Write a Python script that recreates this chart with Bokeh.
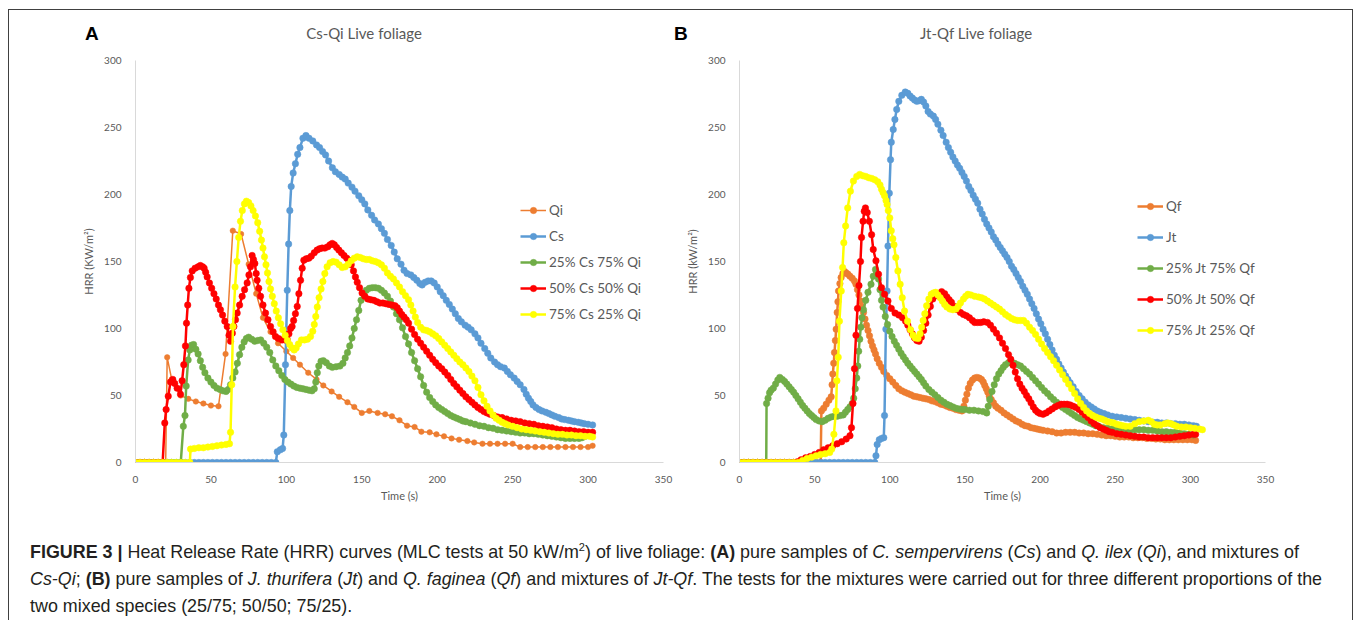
from bokeh.plotting import figure
from bokeh.models import (Range1d, FixedTicker, Legend, LegendItem, Div, ColumnDataSource)
from bokeh.layouts import row, column
from bokeh.embed import file_html
from bokeh.resources import INLINE

# ---------------- data (time s, HRR kW/m2) ----------------
X_TICKS = [0, 50, 100, 150, 200, 250, 300, 350]
Y_TICKS = [0, 50, 100, 150, 200, 250, 300]

A_QI = [(0,0),(5,0),(10,0),(15,0),(20,0),(21,78.5),(24,62),(30,50),(35,47.5),(40,45.5),(45,44),(50,42.5),(55,42),
        (59.7,81),(64.5,173),(70,170.5),(75,148),(80,126),(84.5,108),(89.5,97.5),(94.5,89),(100,83),(104.5,78),(109,73),
        (114.5,67),(120,62),(124.5,57.5),(130,53),(135,49),(140.5,45),(145,41.5),(150,37),(155,38.5),(160.5,37),(165.5,36),
        (170,34.5),(175,31.5),(180,27.5),(185,26.5),(189.5,23),(195,22.5),(199.5,21),(204.5,19.5),(209.5,18),(214.5,17),
        (220,16),(224.5,15),(230,14),(235,14),(240,14),(245,14),(250,14),(255,11.5),(260,11.5),(265,11.5),(270,11.5),
        (275,11.5),(280,11.5),(285,11.5),(290,11.5),(295,11.5),(300,11.5),(303,12.5)]

A_CS = [(0,0),(3,0),(6,0),(9,0),(12,0),(15,0),(18,0),(21,0),(24,0),(27,0),(30,0),(33,0),(36,0),(39,0),(42,0),(45,0),
        (48,0),(51,0),(54,0),(57,0),(60,0),(63,0),(66,0),(69,0),(72,0),(75,0),(78,0),(81,0),(84,0),(87,0),(90,0),(93,0),
        (94,8),(96,9.5),(97.5,10.5),(98.3,20.5),(99.4,73),(100.6,128.5),(101.5,163),(102.3,188),(103.2,206),(104.5,216),
        (106,223),(107.5,230),(109,235),(111,242),(113,244),(115,242),(117.5,240),(120,237),(122,235),(124,232),(126,229.5),
        (128,225),(130.5,220),(132.5,217),(135,215),(137,213),(139,211.5),(141,208.5),(143.5,205.5),(145.5,202.5),(148,199),
        (150,196),(152,193),(154,188.5),(156.5,184.5),(158.5,181),(161,178),(163,174.5),(165,171),(167,166.5),(169.5,162),
        (171.5,157),(173.5,152),(176,148),(178,143.5),(180,141),(182.5,140),(184.5,138),(186.5,136),(188.5,133.5),(190,132.5),
        (192,134.5),(194,135.5),(196,135.5),(198,134),(200,131),(202,127.5),(204,124.5),(206,121),(208,118),(210,114.5),
        (212,111),(214,107.5),(216,105),(218.5,102.5),(220.5,101),(222.5,99),(225,96),(227,93),(229,89),(231.5,85),
        (233.5,81.5),(235.5,78),(238,75),(240,73),(242,71.5),(244.5,70.5),(246.5,68),(248.5,65.5),(251,63),(253,60.5),
        (255,58),(257.5,54.5),(259,51),(260.5,48),(262,45.5),(263.5,43),(265.5,41),(267.5,39.5),(269.5,38.5),(272,37.5),
        (274,36.5),(276,35.5),(278,34.5),(280.5,33.5),(282.5,32.5),(284.5,32),(287,31.5),(289,31),(291,30.5),(293.5,30),
        (295.5,29.5),(297.5,29),(300,28.5),(303,28)]

A_CS25 = [(0,0),(3,0),(6,0),(9,0),(12,0),(15,0),(18,0),(21,0),(24,0),(27,0),(30,0),
          (31.7,27),(32.8,35),(33.6,57),(34.9,76.5),(36,84),(37.1,87.5),(38.5,88),(40,84.5),(41.5,81),(43,76),(44.5,71),
          (46,67),(48,63),(50,60),(52,57.5),(54,55.5),(56,54.5),(58,53.5),(60,53),(61.5,54.5),(63,58),(64.5,63),(66,67.5),
          (67.5,74),(69,80.5),(70.5,86),(72,90),(73.5,92.5),(75,93.5),(77,92),(79,90.5),(81,91),(83,91.5),(85,89),(87,86),
          (89,82),(91,76.5),(93,72),(95,68.5),(97,65),(99,62),(101,60),(103,58.5),(105,57),(107,56),(109,55.5),(111,55),
          (113,54.5),(115,54),(117,53.5),(118.5,55),(119.5,60),(120.5,67),(121.5,72),(123,75.5),(124.5,76),(126.5,74.5),
          (128.5,72),(130.5,71),(133,71.5),(135.5,72),(137.5,74),(139,78),(140.5,82),(142,87),(143.5,93),(145,100),
          (146.5,106.5),(148,113.5),(149.5,121),(151,126),(153,128.5),(155,130),(157,130.5),(159,130.5),(161,130),
          (163,128.5),(165,126.5),(167,124),(169,120.5),(171,116),(173,111),(175,106.5),(177,100.5),(179,94),(181,88.5),
          (183,82),(185,76),(187,70),(189,64),(191,57.5),(193,52.5),(195,48.5),(197,45.5),(199,43),(201,41),(203,39.5),
          (205,38),(207,36.5),(209,35),(211,34),(213,33),(215,32),(217,31),(219,30.5),(222,29.5),(225,28.5),(228,27.5),
          (231,27),(234,26),(237,25.5),(240,24.5),(243,24),(246,23.5),(249,23),(252,22.5),(255,22),(258,22),(261,21.5),
          (264,21.5),(267,21),(270,20.5),(273,20),(276,19.5),(279,19),(282,18.5),(285,18),(288,18),(291,18),(294,18),
          (296,18.5),(298,19.5)]

A_CS50 = [(0,0),(3,0),(6,0),(9,0),(12,0),(15,0),(18,0),
          (19.4,29.5),(20.3,39.5),(21.7,49.5),(23.2,60),(24.7,62),(26,59),(27.6,55.5),(29.8,51),(30.9,61),(32,73),
          (33.1,87),(33.8,104),(34.6,117.5),(35.4,130),(36.4,138),(37.6,143),(39.5,145),(41.5,146),(43,147),(44.5,146),
          (45.5,145),(46.5,142),(47.5,138.5),(49,134),(50.5,130),(52,126),(53.5,122),(55,117.5),(56.3,114),(57.7,110),
          (59.2,105.5),(60.8,101.5),(62,95),(63,90.5),(64.2,96.5),(65.2,101.5),(66.3,106.5),(67.4,111.5),(69,117.5),
          (70.7,124),(72.3,129),(74,134),(75.2,140),(76.2,146),(77.3,154.5),(78.2,151.5),(79.1,148.5),(80,141),
          (80.6,136),(81.7,130),(82.9,124),(84.5,117.5),(86.2,111.5),(87.8,106.5),(89.5,101.5),(91.2,97.5),(92.8,94),
          (94.8,92.5),(97.2,91.5),(99,91.5),(100.5,92),(101.7,96),(102.8,100),(103.8,101.5),(104.8,106),(106,111),
          (107.2,116.5),(108.3,126),(109.4,136),(110.5,145),(111.6,151),(113.2,152),(114.9,152.5),(116.5,154),
          (118.5,156.5),(120.4,158.5),(122,159.5),(123.7,160),(125.5,160),(127.5,161),(129,162.5),(130.4,163.5),
          (131.8,162.5),(133.3,160.5),(134.8,158.5),(136.5,156.5),(138.2,154.5),(140,152.5),(141.4,151),(143,147.5),
          (144.5,143),(145.8,138.5),(147,134.5),(148.5,130.5),(150.2,126.5),(152,124),(154,122),(156,121.5),(158,121),
          (160,120),(162,119),(164,119),(166,118.5),(168,118),(170,117.5),(172,117),(173.5,115.5),(175,113),(176.5,110.5),
          (178,108.5),(179.5,106.5),(181,104),(183,99.5),(185,95.5),(187,92),(189,89),(191,86),(193,83),(195,80),(197,77),
          (199,74.5),(201,72),(203,70),(205,67.5),(207,65),(209,62),(211,59),(213,56.5),(215,54),(217,51.5),(219,49),
          (221,47),(223,45),(225,43),(227,41),(229,39.5),(231,38),(233,37),(235,36),(237.5,35),(240,34),(243,33.5),
          (246,32.5),(249,31.5),(252,31),(255,30.5),(258,29.5),(261,29),(264,28.5),(267,27.5),(270,27),(273,26.5),
          (276,26),(279,25),(282,24.5),(285,24),(288,24),(291,23.5),(294,23),(297,23),(300,22.5),(303,22.5)]

A_CS75 = [(0,0),(3,0),(6,0),(9,0),(12,0),(15,0),(18,0),(21,0),(24,0),(27,0),(30,0),(33,0),(36,0),
          (36.5,10),(39,10.5),(42,11),(45,11),(48,11.5),(51,12),(54,12.5),(57,13),(60,13.5),(62.3,14),(63,22.5),
          (63.8,58),(64.6,101.5),(66,131),(67.2,150),(68.4,168),(69.6,180),(70.8,188),(72.2,193),(73.5,195),(75,194),
          (76.5,191.5),(78,188),(79.5,184),(81,179),(82.3,172.5),(83.5,166),(84.5,160),(85.5,153.5),(86.5,147.5),
          (87.5,141.5),(88.5,135),(89.5,129.5),(90.7,124),(92,118.5),(93.3,113),(94.7,108),(96.2,103.5),(97.7,99),
          (99.2,95),(100.7,91),(102.2,88),(103.7,85.5),(105.2,84),(106.5,85.5),(108,88.5),(110,91.5),(112,91.5),(114,92),
          (116,94),(117.5,98),(118.5,103),(119.5,109),(120.5,116),(121.7,123),(123,129.5),(124.2,135),(125.5,141),
          (127,146),(129,149),(131,150),(133,149.5),(135,147.5),(137,145.5),(139,146),(141,148),(143,150.5),(145,152.5),
          (147,153.5),(149,153),(151,152),(153,151.5),(155,151.5),(157,150.5),(159,150),(161,149),(163,147.5),(165,145),
          (167,141.5),(169,139),(171,137),(173,134),(175,131),(177,127.5),(179,124.5),(181,121.5),(182.5,117.5),
          (184,113),(185.5,108.5),(187,104.5),(189,101),(191,99),(193,98.5),(195,97.5),(197,96),(199,94.5),(201,92.5),
          (203,90),(205,87.5),(207,85),(209,82.5),(211,80),(213,77.5),(215,75),(217,73),(219,70.5),(221,68),(223,64.5),
          (225,61),(227,56),(229,50.5),(231,46),(233,42),(235,38.5),(237,35.5),(239,33),(241,31.5),(243,30),(245,29),
          (247,28),(250,27),(253,26),(256,25),(259,24.5),(262,24),(265,23.5),(268,23),(271,22.5),(274,22),(277,21.5),
          (280,21),(283,21),(286,20.5),(289,20.5),(292,20),(295,20),(298,19.5),(301,19.5),(303,19)]

B_QF = [(0,0),(3,0),(6,0),(9,0),(12,0),(15,0),(18,0),(21,0),(24,0),(27,0),(30,0),(33,0),(36,0),(39,0),(42,0),(45,0),
        (48,0),(51,0),(54,0),
        (54.5,38.5),(56,40.5),(57.7,43.5),(59.5,46.5),(61,49),(61.6,58),(62.1,66),(62.7,74),(63.2,82),(63.8,91),
        (64.3,99.5),(65,112),(65.5,120),(65.9,128),(66.8,133.5),(67.6,138),(68.8,141),(69.9,142.5),(71,141.5),
        (72.2,140.5),(73.5,139),(75,137.5),(76.5,135.5),(77.5,133),(78.5,129),(79.5,125),(80.5,120.5),(81.5,116.5),
        (82.5,112),(83.5,107),(84.5,102.5),(85.5,98.5),(86.5,94.5),(87.5,90.5),(88.5,87),(89.5,84),(90.5,81),(91.6,77.5),
        (93,74),(94.5,71),(96,68),(98,65),(100,62.5),(102,60),(104,57.5),(106,55),(108,53.5),(110,52.5),(112,51.5),
        (114,50.5),(116,49.5),(118,49),(120,48.5),(122,48),(124,47.5),(126,47),(128,46),(130,45.5),(132,44.5),
        (134,43.5),(136,43),(138,42),(140,41),(142,40.5),(144,39.5),(146,39),(148,38.5),(149.3,42),(150.3,46.5),
        (151.3,51),(152.3,55.5),(153.5,59),(155,61.5),(156.5,63),(158,63.5),(159.5,63),(161,62),(162.2,60),(163.2,57.5),
        (164.2,55),(165.2,52.5),(166.2,49.5),(167.5,47),(169,44.5),(170.5,42),(172,40.5),(174,39),(176,37),(178,35.5),
        (180,34),(182,32.5),(184,31),(186,30),(188,28.5),(190,27.5),(192,27),(194,26),(196,25.5),(198,25),(200,24.5),
        (202,24),(205,23.5),(208,23),(211,22),(214,22),(217,22.5),(220,22.5),(223,22.5),(226,22),(229,22),(232,21.5),
        (235,21.5),(238,21),(241,20.5),(244,20),(247,20),(250,19.5),(253,19),(256,19),(259,19),(262,18.5),(265,18.5),
        (268,18.5),(271,18),(274,18),(277,17.5),(280,17.5),(283,17),(286,17),(289,17),(292,17),(295,17),(298,17),
        (301,17),(303.5,16.5)]

B_JT = [(0,0),(3,0),(6,0),(9,0),(12,0),(15,0),(18,0),(21,0),(24,0),(27,0),(30,0),(33,0),(36,0),(39,0),(42,0),(45,0),
        (48,0),(51,0),(54,0),(57,0),(60,0),(63,0),(66,0),(69,0),(72,0),(75,0),(78,0),(81,0),(84,0),(87,0),(90,0),
        (90.8,5),(91.6,13.5),(93,17),(94.5,18),(96,18.5),(96.5,35),(97.4,99.5),(98.2,128),(98.8,161.5),(99.7,201),
        (100.5,226),(101,239),(102.3,248.5),(103.4,256),(104.6,263.5),(106,269.5),(108,274),(110.3,276.5),(112,275.5),
        (113.5,273.5),(115,272),(116.5,270.5),(118,269.5),(119.5,270),(121,271),(122.5,269),(124,266),(125.5,262),
        (127,260),(129,258.5),(130.5,256),(132,252.5),(134,248),(135.5,244),(137.5,239),(139,235),(140.5,231.5),
        (142,228),(143.5,225),(145,222),(146.5,219.5),(148,216.5),(149.5,213.5),(151,210),(152.5,206),(154,203),
        (155.5,199.5),(157,196.5),(158.5,193.5),(160,189),(161.5,185.5),(163,181.5),(164.5,178),(166,175),(167.5,172),
        (169,168.5),(170.5,166),(172,163),(173.5,160.5),(175,158),(176.5,155.5),(178,153),(179.5,150),(181,146.5),
        (182.5,144),(184,141),(185.5,138),(187,135),(188.5,131.5),(190,128.5),(191.5,125.5),(193,122),(194.5,118.5),
        (196,115),(197.5,111),(199,107),(200.5,103.5),(202,99.5),(203.5,96),(205,92),(206.5,88),(208,84),(209.5,80),
        (211,77),(212.5,73.5),(214,70.5),(215.5,67.5),(217,64.5),(218.5,62),(220,59.5),(222,56.5),(224,53),(226,50),
        (228,47.5),(230,45),(232,43),(234,41.5),(236,40),(238,38.5),(240,37.5),(242.5,36.5),(245,35.5),(248,34.5),
        (251,34),(254,33.5),(257,33),(260,32.5),(263,32),(266,31.5),(269,31),(272,30.5),(275,30),(278,30),(281,29.5),
        (284,29.5),(287,29),(290,29),(293,28.5),(296,28.5),(299,28),(302,27.5),(304,27)]

B_JT25 = [(0,0),(3,0),(6,0),(9,0),(12,0),(15,0),(17.8,0),
          (18,44),(19,48),(20,52),(21,54),(22.5,55.5),(24,58.5),(25.5,61.5),(26.8,63.5),(28.5,62),(30,60.5),(31.5,58.5),
          (33,56.5),(34.5,54.5),(36,52.5),(37.5,50),(39,47.5),(40.5,45),(42,42.5),(43.5,40.5),(45,38.5),(46.5,36.5),
          (48,35),(49.5,33.5),(51,32),(53,31),(55,30.5),(57,31.5),(59,33),(61,34),(63,34.5),(65,34.5),(67,35),(69,35.5),
          (70.5,37.5),(72,39.5),(73.5,41.5),(75,44),(76,48),(77,55),(78,63),(78.7,72),(79.3,83),(80,92),(80.7,101),
          (81.5,108),(82.5,114),(84,121),(85.5,127),(87.5,133),(89,139),(90.5,144),(91.5,141),(92.5,137),(93.5,129),
          (94.5,121),(95.5,116),(97,109),(98.5,103),(100,98),(101.5,94),(103,90.5),(104.5,87.5),(106,84.5),(107.5,81.5),
          (109,79),(110.5,76.5),(112,74),(113.5,72),(115,70),(116.5,68),(118,66),(119.5,64),(121,62),(122.5,59.5),
          (124,57),(126,54.5),(128,52.5),(130,50.5),(132,48.5),(134,46.5),(136,45),(138,43.5),(140,42.5),(142,41.5),
          (144,40.5),(146,40),(148,39.5),(150,39.5),(153,39),(156,39),(159,38.5),(162,38),(164.5,37),(165.5,42),
          (166.5,47),(168,53),(169.5,58),(171,62.5),(172.5,66),(174,68.5),(175.5,71),(177,73),(179,74.5),(181,74.5),
          (183,74),(185,73),(187,72),(189,70),(191,68),(193,66),(195,63.5),(197,61),(199,58.5),(201,56),(203,53.5),
          (205,51.5),(207,49),(209,47),(211,45),(213,43),(215,41),(217,39.5),(219,38),(221,36.5),(223,35),(225,33.5),
          (227,32.5),(229,31.5),(231,30.5),(233,29.5),(235,28.5),(237,27.5),(239,27),(242,26),(245,25.5),(248,25),
          (251,24.5),(254,24),(257,24),(260,24),(263,24.5),(266,24.5),(269,24.5),(272,24),(275,24),(278,23.5),(281,23),
          (284,23),(287,22.5),(290,22.5),(293,22),(296,21.5),(299,21),(302,20.5)]

B_JT50 = [(0,0),(3,0),(6,0),(9,0),(12,0),(15,0),(18,0),(21,0),(24,0),(27,0),(30,0),(33,0),(36,0),
          (38.5,0.5),(41,2),(44,3.5),(47,4.5),(50,6),(53,7.5),(56,9.5),(59,11),(62,12.5),(65,14),(68,15.5),(71,17.5),
          (73.5,20),(74.5,26),(75.5,44),(76.5,70),(77.5,95),(78.5,115),(79.5,132),(80.5,150),(81.2,168),(82.2,180),
          (83,187.5),(83.8,190),(85,186.5),(86.4,180),(87.9,170),(89,159),(90.8,150.5),(92.5,140.5),(94.5,130.5),
          (96.5,125.5),(98.8,120.5),(101,115),(103.5,111.5),(106,110),(108.5,108),(110.5,105.5),(112,102.5),(113.5,99),
          (115,96),(116.5,93),(118,91),(119.5,90.5),(121,93.5),(122.5,98.5),(124,104),(125.5,110),(127,116.5),
          (128.6,122),(130.5,124.5),(132.5,126),(134.5,127.5),(136.5,126),(138,123.5),(139.5,121.5),(141,119.5),
          (143,116.5),(145,114),(147,112),(149,110.5),(151,109.5),(153,108),(155,106),(156.5,104.5),(158.5,104.5),
          (160.5,104.5),(162.5,105),(165,104.5),(167,102.5),(169,99.5),(171,96.5),(173,93),(175,89),(177,85),(179,80.5),
          (180.5,77),(182,72.5),(183.5,67.5),(185,62.5),(186.5,58.5),(188,55.5),(189.5,53),(191,50),(192.5,47.5),
          (194,44.5),(195.5,41.5),(197,39),(198.5,37.5),(200,36.5),(202,36),(204,37),(206,38.5),(208,40),(210,41.5),
          (212,42.5),(214,43.5),(216,43.5),(218,43.5),(220,43),(222,42),(224,41),(226,39.5),(228,37.5),(230,35.5),
          (232,33.5),(234,31),(236,29),(238,27.5),(240,26),(242,25),(244,24),(246,23),(248,22.5),(251,21.5),(254,21),
          (257,20.5),(260,20),(263,19.5),(266,19),(269,19),(272,18.5),(275,18.5),(278,18.5),(281,18.5),(284,18.5),
          (287,18.5),(290,19),(293,19.5),(296,20),(299,20.5),(302,21),(303.5,21)]

B_JT75 = [(0,0),(3,0),(6,0),(9,0),(12,0),(15,0),(18,0),(21,0),(24,0),(27,0),(30,0),(33,0),(36,0),(39,0),
          (42,1.5),(45,3),(48,4),(51,5),(54,6),(57,6.5),(60,7.5),(61.4,10),(62.8,21),(64.2,38.5),(64.8,61),(65.7,78.5),
          (66.5,105.5),(67.7,128),(68.6,145.5),(69.4,164),(70.6,176.5),(72,190),(73.8,202.5),(75.8,210),(78,213.5),
          (80,215),(82,214),(84,213.5),(86,212.5),(88,212),(90,211),(92,209.5),(93.5,207),(94.5,204),(95.5,201.5),
          (96.5,199),(97.5,195.5),(98.2,192.5),(99,188),(100,182.5),(101,173),(102,167),(102.8,162.5),(104,153),
          (105.4,143),(106.9,133),(108.3,123),(109.8,113),(111.8,105.5),(113.8,99),(115.5,95),(117,93),(118.8,92.5),
          (120.2,96),(121.2,101),(122.2,106),(123.3,111),(124.5,117),(126,122),(127.6,125.5),(129,126.5),(130.5,127),
          (132,125),(133.5,123),(135,120.5),(136.5,118),(138,116),(140,114.5),(142,114),(144,114.5),(145.5,116.5),
          (147,119),(149,122),(150.5,124),(152,125.5),(154,125),(156.5,124),(159,123.5),(161,123),(163,122),(165,120.5),
          (167,119),(169,117.5),(171,116),(173,114.5),(175,112.5),(177,110.5),(179,109),(181,107.5),(183,106.5),
          (185,106),(187,106),(189,106),(191,104),(193,101),(195,98.5),(197,95.5),(199,92),(201,88.5),(203,85),(205,82),
          (207,79),(209,76),(211,72.5),(213,69),(215,65.5),(217,62),(219,58.5),(221,55),(223,51.5),(225,47.5),(227,44),
          (229,41),(231,38.5),(233,36.5),(235,35),(237,34),(239,33),(241,32.5),(243,31.5),(245,30.5),(247,30),
          (249,29.5),(251,28.5),(253,28),(255,27.5),(257,27),(260,27),(263,29),(266,30.5),(269,31),(272,31.5),
          (274,30.5),(276,28.5),(278,28),(280,28),(283,29),(285,29.5),(287,29),(289,28),(291,27),(294,26.5),
          (297,26.5),(300,26),(303,25.5),(306,25),(308,24.5)]

ORANGE, BLUE, GREEN, RED, YELLOW = "#ED7D31", "#5B9BD5", "#70AD47", "#FF0000", "#FFFF00"

SERIES_A = [("Qi", A_QI, ORANGE, "sparse"), ("Cs", A_CS, BLUE, "dense"),
            ("25% Cs 75% Qi", A_CS25, GREEN, "dense"), ("50% Cs 50% Qi", A_CS50, RED, "dense"),
            ("75% Cs 25% Qi", A_CS75, YELLOW, "dense")]
SERIES_B = [("Qf", B_QF, ORANGE, "dense"), ("Jt", B_JT, BLUE, "dense"),
            ("25% Jt 75% Qf", B_JT25, GREEN, "dense"), ("50% Jt 50% Qf", B_JT50, RED, "dense"),
            ("75% Jt 25% Qf", B_JT75, YELLOW, "dense")]

PANEL_TITLES = ["Cs-Qi Live foliage", "Jt-Qf Live foliage"]
PANEL_LETTERS = ["A", "B"]

GRAY = "#595959"
CHART_FONT = "Lato"


def make_panel(width, left, right, series, ylabel, legend_xy, legend_spacing, bottom):
    p = figure(width=width, height=460, output_backend="svg", toolbar_location=None,
               x_range=Range1d(0, 350), y_range=Range1d(0, 300),
               min_border_left=left, min_border_right=right,
               min_border_top=10, min_border_bottom=bottom,
               background_fill_color="white", border_fill_color="white")
    p.outline_line_color = None
    p.xgrid.visible = False
    p.ygrid.visible = False
    p.xaxis.ticker = FixedTicker(ticks=X_TICKS)
    p.yaxis.ticker = FixedTicker(ticks=Y_TICKS)
    for ax in (p.xaxis[0], p.yaxis[0]):
        ax.axis_line_color = "#d9d9d9"
        ax.axis_line_width = 1
        ax.major_tick_line_color = None
        ax.minor_tick_line_color = None
        ax.major_label_text_font = CHART_FONT
        ax.major_label_text_font_size = "10px"
        ax.major_label_text_color = GRAY
        ax.axis_label_text_font = CHART_FONT
        ax.axis_label_text_font_size = "11px"
        ax.axis_label_text_color = GRAY
        ax.axis_label_text_font_style = "normal"
    p.xaxis.axis_label = "Time (s)"
    p.yaxis.axis_label = ylabel
    p.xaxis.major_label_standoff = 7
    p.xaxis.axis_label_standoff = 3
    p.yaxis.major_label_standoff = 8
    p.yaxis.axis_label_standoff = 6

    items = []
    for name, pts, color, kind in series:
        src = ColumnDataSource(dict(t=[q[0] for q in pts], hrr=[q[1] for q in pts]))
        lw = 1.5 if kind == "sparse" else 2.5
        ms = 5.5 if kind == "sparse" else 6.5
        r1 = p.line("t", "hrr", source=src, line_color=color, line_width=lw)
        r2 = p.scatter("t", "hrr", source=src, marker="circle", size=ms,
                       fill_color=color, line_color=color, line_width=0.5)
        items.append(LegendItem(label=name, renderers=[r1, r2]))

    leg = Legend(items=items, location=legend_xy, orientation="vertical",
                 spacing=legend_spacing, glyph_width=26, glyph_height=16, label_height=20,
                 label_standoff=3, padding=0, margin=0, border_line_color=None,
                 background_fill_alpha=0, label_text_font=CHART_FONT,
                 label_text_font_size="13.5px", label_text_color=GRAY)
    p.add_layout(leg)
    return p


pA = make_panel(664, 126, 10, SERIES_A, "HRR (KW/m\u00b2)", (385, 138), 6, 47)
pB = make_panel(679, 66, 87, SERIES_B, "HRR (kW/m\u00b2)", (398, 122), 11, 48)

LETTER_CSS = ("position:absolute;top:14px;font-family:'Liberation Sans',Arial,sans-serif;"
              "font-weight:bold;font-size:19px;line-height:19px;color:#000;")
TITLE_CSS = ("position:absolute;top:15px;width:240px;text-align:center;font-family:Lato,sans-serif;"
             "font-size:15px;line-height:16px;color:#595959;white-space:nowrap;")
head_html = ('<div style="position:relative;width:1343px;height:40px;">'
             f'<span style="{LETTER_CSS}left:76px;">{PANEL_LETTERS[0]}</span>'
             f'<span style="{TITLE_CSS}left:235px;">{PANEL_TITLES[0]}</span>'
             f'<span style="{LETTER_CSS}left:665px;">{PANEL_LETTERS[1]}</span>'
             f'<span style="{TITLE_CSS}left:847px;">{PANEL_TITLES[1]}</span>'
             '</div>')
head = Div(text=head_html, width=1343, height=40, margin=0)

cap_html = ('<b>FIGURE 3 |</b> Heat Release Rate (HRR) curves (MLC tests at 50 kW/m'
            '<sup style="font-size:11px;line-height:0">2</sup>) of live foliage: '
            '<b>(A)</b> pure samples of <i>C. sempervirens</i> (<i>Cs</i>) and <i>Q. ilex</i> (<i>Qi</i>), '
            'and mixtures of<br>'
            '<i>Cs-Qi</i>; <b>(B)</b> pure samples of <i>J. thurifera</i> (<i>Jt</i>) and <i>Q. faginea</i> '
            '(<i>Qf</i>) and mixtures of <i>Jt-Qf</i>. The tests for the mixtures were carried out for three '
            'different proportions of the<br>'
            'two mixed species (25/75; 50/50; 75/25).')
cap = Div(text=cap_html, width=1343, height=110, margin=0,
          styles={"font-family": "'Liberation Sans', Arial, sans-serif", "font-size": "17.9px",
                  "line-height": "27px", "color": "#231f20", "white-space": "nowrap",
                  "padding": "29px 0 0 21px", "box-sizing": "border-box", "overflow": "hidden"})

layout = column(head, row(pA, pB), cap, margin=(9, 0, 0, 8),
                styles={"border-top": "1px solid #404040", "border-left": "1px solid #404040",
                        "border-right": "1px solid #404040", "border-bottom": "none"})

with open("out.html", "w") as f:
    f.write(file_html(layout, INLINE, title="Figure 3"))
